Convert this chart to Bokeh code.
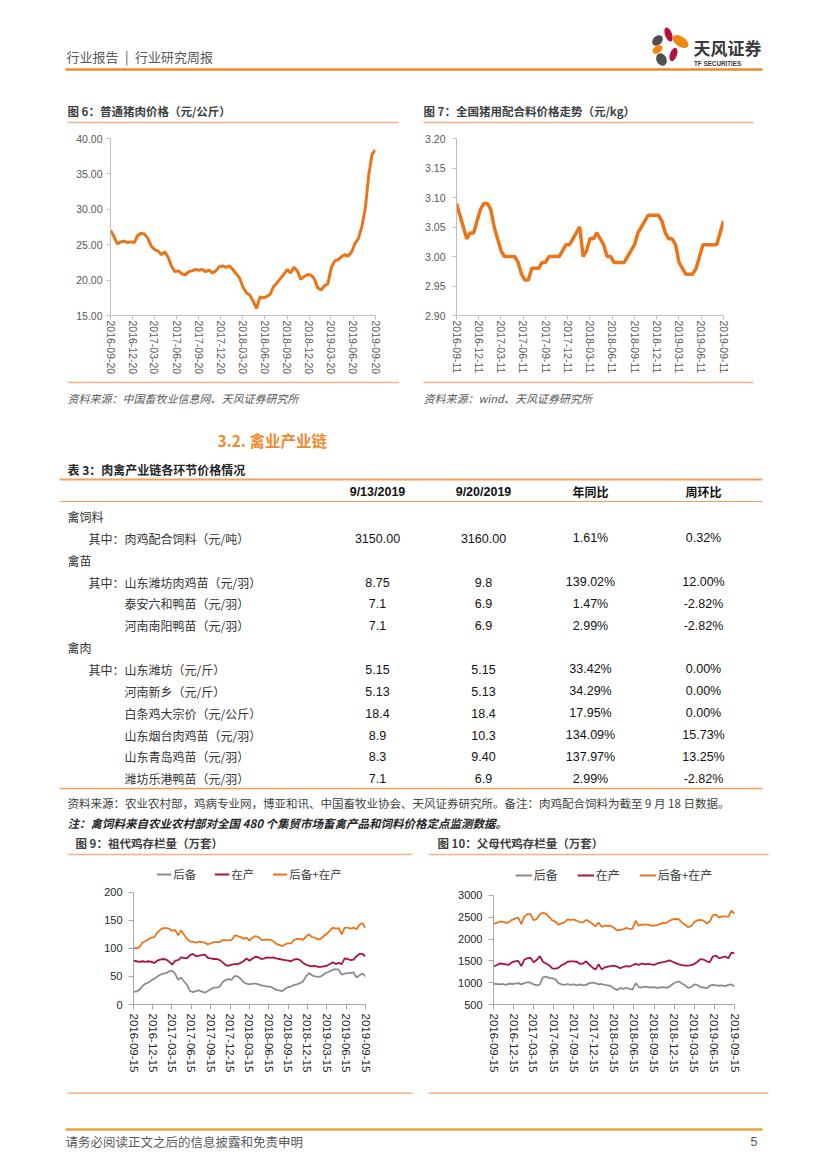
import numpy as np
import pandas as pd
from bokeh.plotting import figure
from bokeh.layouts import column, row
from bokeh.models import (Range1d, FixedTicker, NumeralTickFormatter,
                          DatetimeTickFormatter, Legend, LegendItem)
from bokeh.core.properties import value
from bokeh.embed import file_html
from bokeh.resources import INLINE

# ------------------------------------------------------------------ data
pork_ticks = ["2016-09-20", "2016-12-20", "2017-03-20", "2017-06-20", "2017-09-20",
              "2017-12-20", "2018-03-20", "2018-06-20", "2018-09-20", "2018-12-20",
              "2019-03-20", "2019-06-20", "2019-09-20"]
pork_price = [27.0, 26.2, 25.1, 25.4, 25.5, 25.3, 25.4, 25.3, 26.3, 26.6,
              26.5, 25.9, 24.8, 24.3, 24.1, 23.6, 24.0, 23.2, 21.9, 21.2,
              21.3, 20.9, 20.7, 21.2, 21.3, 21.5, 21.4, 21.5, 21.2, 21.4,
              21.0, 21.3, 21.9, 22.0, 21.8, 22.0, 21.5, 20.9, 20.3, 19.0,
              18.2, 17.9, 17.0, 16.0, 17.6, 17.5, 17.7, 18.0, 19.1, 19.6,
              20.2, 20.8, 21.5, 21.0, 21.8, 21.3, 20.1, 20.5, 20.8, 20.7,
              20.2, 18.9, 18.6, 19.2, 19.5, 21.8, 22.7, 22.9, 23.3, 23.6,
              23.4, 24.0, 25.2, 25.9, 27.6, 30.1, 34.8, 37.8, 38.4]

feed_ticks = ["2016-09-11", "2016-12-11", "2017-03-11", "2017-06-11", "2017-09-11",
              "2017-12-11", "2018-03-11", "2018-06-11", "2018-09-11", "2018-12-11",
              "2019-03-11", "2019-06-11", "2019-09-11"]
feed_price = [3.09, 3.07, 3.05, 3.03, 3.04, 3.04, 3.06, 3.08, 3.09, 3.09,
              3.08, 3.05, 3.03, 3.01, 3.00, 3.00, 3.00, 3.00, 2.99, 2.97,
              2.96, 2.96, 2.98, 2.98, 2.98, 2.99, 2.99, 3.00, 3.00, 3.00,
              3.00, 3.01, 3.02, 3.02, 3.03, 3.04, 3.05, 3.00, 3.01, 3.03,
              3.03, 3.04, 3.03, 3.02, 3.00, 3.00, 2.99, 2.99, 2.99, 2.99,
              3.00, 3.01, 3.02, 3.04, 3.05, 3.06, 3.07, 3.07, 3.07, 3.07,
              3.06, 3.04, 3.03, 3.03, 3.02, 2.99, 2.98, 2.97, 2.97, 2.97,
              2.98, 3.00, 3.02, 3.02, 3.02, 3.02, 3.02, 3.04, 3.06]

chick_ticks = ["2016-09-15", "2016-12-15", "2017-03-15", "2017-06-15", "2017-09-15",
               "2017-12-15", "2018-03-15", "2018-06-15", "2018-09-15", "2018-12-15",
               "2019-03-15", "2019-06-15", "2019-09-15"]
series_names = ["后备", "在产", "后备+在产"]

gp_reserve = [23, 23, 26, 33, 37, 39, 43, 46, 50, 53,
              55, 56, 59, 60, 55, 44, 48, 41, 35, 24,
              22, 24, 25, 23, 21, 24, 27, 30, 30, 32,
              40, 44, 45, 44, 51, 50, 46, 40, 37, 36,
              37, 37, 36, 34, 33, 32, 32, 29, 26, 25,
              24, 28, 31, 32, 35, 36, 38, 41, 50, 56,
              52, 50, 49, 50, 54, 57, 59, 62, 63, 62,
              53, 55, 56, 56, 57, 48, 52, 55, 50]
gp_laying = [78, 77, 76, 77, 76, 77, 76, 74, 78, 80,
             81, 80, 76, 71, 78, 79, 84, 83, 82, 88,
             90, 86, 87, 88, 89, 83, 82, 81, 81, 79,
             75, 70, 69, 71, 72, 72, 74, 77, 82, 78,
             82, 85, 84, 81, 82, 84, 83, 84, 82, 81,
             80, 79, 78, 77, 80, 81, 79, 74, 71, 69,
             68, 69, 67, 67, 68, 69, 72, 75, 72, 74,
             72, 82, 81, 79, 80, 86, 90, 90, 86]

ps_reserve = [980, 970, 960, 970, 950, 980, 970, 980, 990, 960,
              990, 1010, 1000, 960, 940, 960, 1120, 1140, 1110, 1100,
              1080, 990, 960, 950, 970, 950, 960, 940, 960, 940,
              950, 990, 1000, 990, 960, 970, 950, 940, 920, 870,
              830, 880, 860, 880, 860, 840, 990, 900, 890, 910,
              900, 890, 900, 880, 890, 900, 880, 910, 970, 1010,
              1030, 980, 940, 880, 900, 960, 950, 900, 890, 870,
              930, 950, 940, 930, 940, 920, 950, 960, 910]
ps_laying = [1370, 1400, 1440, 1430, 1420, 1410, 1470, 1490, 1500, 1380,
             1530, 1560, 1570, 1470, 1520, 1610, 1480, 1440, 1400, 1330,
             1320, 1340, 1400, 1430, 1480, 1490, 1490, 1480, 1430, 1440,
             1490, 1410, 1350, 1300, 1420, 1310, 1350, 1370, 1380, 1390,
             1370, 1330, 1360, 1380, 1370, 1400, 1430, 1410, 1440, 1420,
             1430, 1420, 1410, 1440, 1460, 1470, 1490, 1510, 1480, 1450,
             1420, 1400, 1390, 1390, 1400, 1430, 1480, 1540, 1530, 1490,
             1470, 1600, 1620, 1560, 1580, 1600, 1560, 1690, 1670]

table_header = ["9/13/2019", "9/20/2019", "年同比", "周环比"]
table_items = ["禽饲料", "其中：肉鸡配合饲料（元/吨）", "禽苗", "其中：山东潍坊肉鸡苗（元/羽）",
               "泰安六和鸭苗（元/羽）", "河南南阳鸭苗（元/羽）", "禽肉", "其中：山东潍坊（元/斤）",
               "河南新乡（元/斤）", "白条鸡大宗价（元/公斤）", "山东烟台肉鸡苗（元/羽）",
               "山东青岛鸡苗（元/羽）", "潍坊乐港鸭苗（元/羽）"]
table_level = [0, 1, 0, 1, 1, 1, 0, 1, 1, 1, 1, 1, 1]
col_0913 = ["", "3150.00", "", "8.75", "7.1", "7.1", "", "5.15", "5.13", "18.4", "8.9", "8.3", "7.1"]
col_0920 = ["", "3160.00", "", "9.8", "6.9", "6.9", "", "5.15", "5.13", "18.4", "10.3", "9.40", "6.9"]
col_yoy = ["", "1.61%", "", "139.02%", "1.47%", "2.99%", "", "33.42%", "34.29%", "17.95%",
           "134.09%", "137.97%", "2.99%"]
col_wow = ["", "0.32%", "", "12.00%", "-2.82%", "-2.82%", "", "0.00%", "0.00%", "0.00%",
           "15.73%", "13.25%", "-2.82%"]

# ------------------------------------------------------------------ style
CJK = "Noto Sans CJK SC"
LAT = "Liberation Sans"
ORANGE = "#E8751A"
RED = "#A8133F"
GREY = "#8C8C8C"
RULE = "#F4B183"
TRULE = "#F2A15D"
W = 827


def band(top, h):
    p = figure(width=W, height=h, x_range=Range1d(0, W), y_range=Range1d(top + h, top),
               toolbar_location=None, output_backend="svg", min_border=0,
               x_axis_location=None, y_axis_location=None, outline_line_color=None)
    p.grid.visible = False
    p.background_fill_color = "white"
    p.border_fill_color = "white"
    return p


def txt(p, x, y, s, size, color="#404040", font=CJK, style="normal", align="left"):
    p.text(x=[x], y=[y], text=[s], text_font=value(font), text_font_size=f"{size}px",
           text_color=color, text_font_style=style, text_align=align, text_baseline="middle")


def hline(p, x0, x1, y, color, w):
    p.segment(x0=[x0], y0=[y], x1=[x1], y1=[y], line_color=color, line_width=w)


def chart(w, h, x0, x1, y0, y1, ml, mr, mt, mb):
    p = figure(width=w, height=h, x_axis_type="datetime",
               x_range=Range1d(pd.Timestamp(x0), pd.Timestamp(x1)), y_range=Range1d(y0, y1),
               min_border_left=ml, min_border_right=mr, min_border_top=mt, min_border_bottom=mb,
               toolbar_location=None, output_backend="svg", outline_line_color=None)
    p.grid.visible = False
    p.background_fill_color = "white"
    p.border_fill_color = "white"
    return p


def style_axes(p, xticks, yticks, yfmt, size, color, axcol, ystand, xstand, tick):
    p.xaxis.ticker = FixedTicker(ticks=[pd.Timestamp(s).value / 1e6 for s in xticks])
    f = "%Y-%m-%d"
    p.xaxis.formatter = DatetimeTickFormatter(microseconds=f, milliseconds=f, seconds=f,
                                              minsec=f, minutes=f, hourmin=f, hours=f,
                                              days=f, months=f, years=f)
    p.yaxis.ticker = FixedTicker(ticks=yticks)
    p.yaxis.formatter = NumeralTickFormatter(format=yfmt)
    for ax in (p.xaxis[0], p.yaxis[0]):
        ax.axis_line_color = axcol
        ax.major_tick_line_color = axcol
        ax.minor_tick_line_color = None
        ax.major_tick_out = tick
        ax.major_tick_in = 0
        ax.major_label_text_font = LAT
        ax.major_label_text_font_size = f"{size}px"
        ax.major_label_text_color = color
    p.xaxis.major_label_orientation = "vertical"
    p.yaxis.major_label_standoff = ystand
    p.xaxis.major_label_standoff = xstand


# ------------------------------------------------------------------ band 1: header
b1 = band(0, 128)
txt(b1, 66, 56, "行业报告\u2002|\u2002行业研究周报", 13, "#595959")
hline(b1, 65, 762, 69, "#E8892B", 2.5)
b1.ellipse(x=[668, 657, 680, 657, 673, 661], y=[34, 40, 41, 49, 54, 59],
           width=[7, 9, 10, 7, 7, 10], height=[15, 12, 18, 11, 14, 13],
           angle=[0.35, -0.8, 1.0, -1.0, -0.35, 0.5],
           fill_color=["#B4123C", "#505050", "#F0870F", "#F0870F", "#B4123C", "#505050"],
           line_color=None)
txt(b1, 693, 47, "天风证券", 17, "#3A3A3A", style="bold")
txt(b1, 693.5, 63, "TF SECURITIES", 6.3, "#3A3A3A", font=LAT, style="bold")
txt(b1, 67, 110, "图 6：普通猪肉价格（元/公斤）", 11.5, "#404040", style="bold")
txt(b1, 423, 110, "图 7：全国猪用配合料价格走势（元/kg）", 11.5, "#404040", style="bold")
hline(b1, 67, 398, 122, RULE, 1.5)
hline(b1, 423, 753, 122, RULE, 1.5)

# ------------------------------------------------------------------ band 2: charts 6, 7
c6 = chart(413, 250, pork_ticks[0], pork_ticks[-1], 15, 40, 110, 38, 10, 62)
d6 = pd.date_range(pork_ticks[0], pork_ticks[-1], periods=len(pork_price))
c6.line(d6, pork_price, line_color=ORANGE, line_width=3)
style_axes(c6, pork_ticks, [15, 20, 25, 30, 35, 40], "0.00", 10.5, "#595959", "#BFBFBF", 4, 1, 4)

c7 = chart(414, 250, feed_ticks[0], feed_ticks[-1], 2.90, 3.20, 43, 104, 9, 63)
d7 = pd.date_range(feed_ticks[0], feed_ticks[-1], periods=len(feed_price))
c7.line(d7, feed_price, line_color=ORANGE, line_width=3.5)
style_axes(c7, feed_ticks, [2.90, 2.95, 3.00, 3.05, 3.10, 3.15, 3.20], "0.00", 10.5,
           "#595959", "#BFBFBF", 7, 1, 4)

# ------------------------------------------------------------------ band 3: sources + table
b3 = band(378, 482)
hline(b3, 67, 398, 382, RULE, 1.5)
hline(b3, 423, 753, 382, RULE, 1.5)
txt(b3, 67, 397, "资料来源：中国畜牧业信息网、天风证券研究所", 11, "#595959", style="italic")
txt(b3, 423, 397, "资料来源：wind、天风证券研究所", 11, "#595959", style="italic")
txt(b3, 217, 439, "3.2. 禽业产业链", 15.5, "#EE8A2E", style="bold")
txt(b3, 67, 469, "表 3：肉禽产业链各环节价格情况", 12, "#262626", style="bold")
hline(b3, 59, 762, 479, TRULE, 1.8)
col_x = [377, 483, 590, 703]
for cx, h in zip(col_x, table_header):
    f = LAT if h[0].isdigit() else CJK
    sz = 12.5 if f == LAT else 12
    txt(b3, cx, 491, h, sz, "#111111", font=f, style="bold", align="center")
hline(b3, 59, 762, 501, TRULE, 1)
for i, item in enumerate(table_items):
    y = 516 + i * 21.85
    if table_level[i] == 0:
        txt(b3, 67, y, item, 12, "#333333")
    else:
        if item.startswith("其中："):
            txt(b3, 124, y, "其中：", 12, "#333333", align="right")
            item = item[3:]
        txt(b3, 124, y, item, 12, "#333333")
    for cx, col in zip(col_x, (col_0913, col_0920, col_yoy, col_wow)):
        if col[i]:
            txt(b3, cx, y, col[i], 12.5, "#111111", font=LAT, align="center")
hline(b3, 59, 762, 788, TRULE, 1.5)
txt(b3, 67, 802, "资料来源：农业农村部，鸡病专业网，博亚和讯、中国畜牧业协会、天风证券研究所。备注：肉鸡配合饲料为截至 9 月 18 日数据。",
    11.5, "#404040")
txt(b3, 67, 822, "注：禽饲料来自农业农村部对全国 480 个集贸市场畜禽产品和饲料价格定点监测数据。",
    11.5, "#262626", style="bold italic")
txt(b3, 75, 842, "图 9：祖代鸡存栏量（万套）", 11.5, "#404040", style="bold")
txt(b3, 437, 842, "图 10：父母代鸡存栏量（万套）", 11.5, "#404040", style="bold")
hline(b3, 67, 412, 854, RULE, 1.5)
hline(b3, 428, 768, 854, RULE, 1.5)


# ------------------------------------------------------------------ band 4: charts 9, 10
def chick_chart(w, reserve, laying, y0, y1, ytop, yticks, ml, mr, mt, mb, pad, gw, spacing, lsize):
    p = chart(w, 225, chick_ticks[0], chick_ticks[-1], y0, ytop, ml, mr, mt, mb)
    d = pd.date_range(chick_ticks[0], chick_ticks[-1], periods=len(reserve))
    total = [a + b for a, b in zip(reserve, laying)]
    r1 = p.line(d, reserve, line_color=GREY, line_width=1.8)
    r2 = p.line(d, laying, line_color=RED, line_width=1.8)
    r3 = p.line(d, total, line_color=ORANGE, line_width=1.8)
    leg = Legend(items=[LegendItem(label=series_names[0], renderers=[r1]),
                        LegendItem(label=series_names[1], renderers=[r2]),
                        LegendItem(label=series_names[2], renderers=[r3])],
                 orientation="horizontal", location="top_center", padding=pad, margin=0,
                 spacing=spacing, glyph_width=gw, glyph_height=12, label_height=12,
                 label_standoff=2, label_text_font=CJK, label_text_font_size=f"{lsize}px",
                 label_text_color="#404040", border_line_color=None, background_fill_alpha=0)
    p.add_layout(leg)
    style_axes(p, chick_ticks, yticks, "0", 11.5, "#262626", "#A6A6A6", 6, 4, 5)
    p.yaxis.major_label_text_font_size = "11px"
    p.yaxis.bounds = (y0, y1)
    return p


c9 = chick_chart(420, gp_reserve, gp_laying, 0, 200, 245.7, [0, 50, 100, 150, 200],
                 133, 55, 6, 78, 3, 15, 18, 11.5)
c10 = chick_chart(407, ps_reserve, ps_laying, 500, 3000, 3663, [500, 1000, 1500, 2000, 2500, 3000],
                  73, 93, 6, 81, 5, 17, 19, 12)

# ------------------------------------------------------------------ band 5: footer
b5 = band(1085, 80)
hline(b5, 67, 412, 1092.7, RULE, 1.5)
hline(b5, 428, 768, 1092.7, RULE, 1.5)
hline(b5, 65, 762, 1129, "#E9A23B", 2.5)
txt(b5, 65, 1141, "请务必阅读正文之后的信息披露和免责申明", 12.5, "#595959")
txt(b5, 757, 1141, "5", 12.5, "#595959", font=LAT, align="right")

page = column(b1, row(c6, c7), b3, row(c9, c10), b5)
open("out.html", "w").write(file_html(page, INLINE, title="行业研究周报"))
